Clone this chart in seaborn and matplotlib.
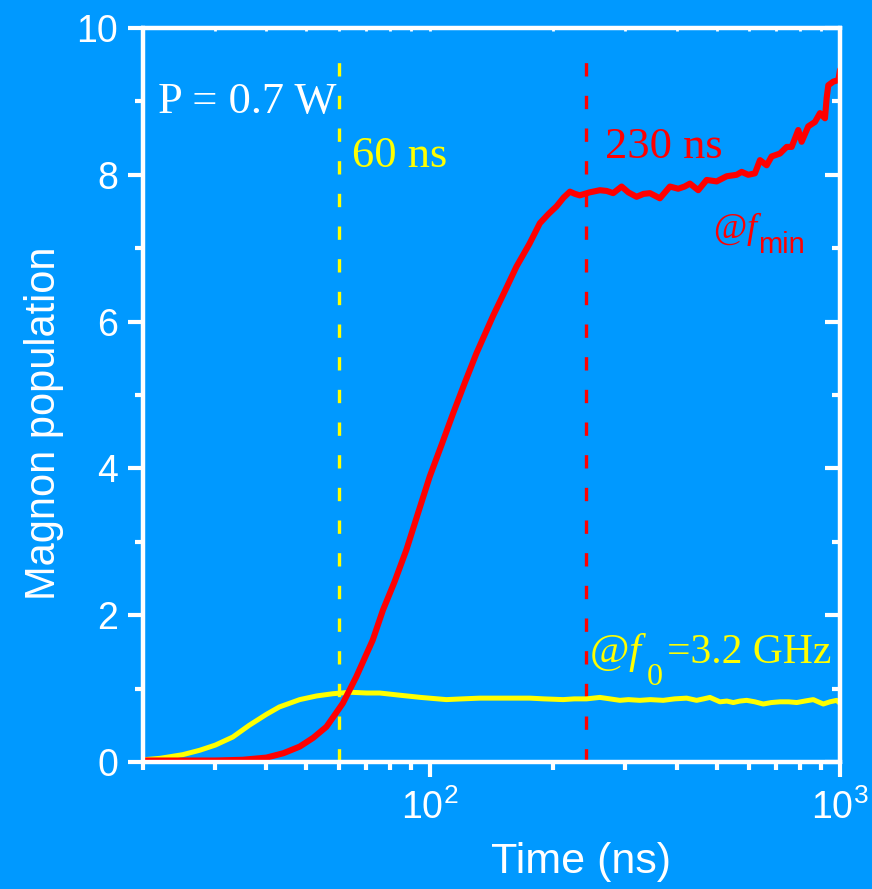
import numpy as np
import pandas as pd
import matplotlib
matplotlib.use("Agg")
import matplotlib.pyplot as plt
import seaborn as sns
from matplotlib.ticker import FixedLocator, MultipleLocator, NullFormatter, FixedFormatter

# ---------------- data ----------------
yel_t = [20, 22, 25, 27.5, 30, 33.1, 36.3, 40, 43, 48.2, 53, 58, 64, 70.2, 75.5, 84.5, 95,
         109.8, 120, 132.4, 150, 175.4, 190, 211.4, 225, 241.1, 259.8, 275, 290.7, 305, 325.2,
         345, 370.7, 395, 422.8, 447.2, 465, 481.9, 509.7, 530, 549.4, 570, 592.2, 620, 650.1,
         680, 714, 750, 784.3, 820, 860.8, 885, 910.5, 945, 981.5, 1000]
yel_n = [0.03, 0.05, 0.10, 0.16, 0.23, 0.34, 0.50, 0.65, 0.75, 0.85, 0.90, 0.93, 0.95, 0.94,
         0.94, 0.91, 0.88, 0.85, 0.86, 0.87, 0.87, 0.87, 0.86, 0.85, 0.86, 0.86, 0.88, 0.86,
         0.84, 0.85, 0.84, 0.85, 0.84, 0.86, 0.87, 0.84, 0.86, 0.88, 0.82, 0.83, 0.81, 0.83,
         0.84, 0.82, 0.79, 0.81, 0.82, 0.82, 0.81, 0.83, 0.85, 0.82, 0.79, 0.82, 0.84, 0.80]

red_t = [20, 25, 30, 35, 40, 44, 48.2, 52, 56, 61.4, 66.2, 72.6, 76.9, 82, 87.7, 93.5, 100,
         107, 114, 122, 130, 142.7, 152, 162.7, 175, 185.5, 195, 203.7, 212, 219.6, 226, 232,
         245, 259.8, 270, 280, 293.5, 305, 319.3, 332, 344.1, 363.9, 384.9, 403.3, 418, 430.7,
         451.3, 473.1, 500.4, 529.3, 559.8, 575.8, 597.5, 620.4, 638.1, 662.5, 681.3, 714,
         741.3, 762.4, 791.1, 806.3, 836.8, 868.9, 893.7, 919, 928, 936.5, 963.2, 990.6, 1000]
red_n = [0.02, 0.02, 0.02, 0.03, 0.06, 0.12, 0.21, 0.33, 0.48, 0.80, 1.16, 1.66, 2.07, 2.45,
         2.89, 3.38, 3.89, 4.33, 4.75, 5.18, 5.57, 6.08, 6.40, 6.75, 7.06, 7.34, 7.47, 7.57,
         7.69, 7.77, 7.74, 7.72, 7.76, 7.79, 7.78, 7.75, 7.84, 7.76, 7.70, 7.74, 7.75, 7.68,
         7.84, 7.81, 7.84, 7.88, 7.79, 7.93, 7.91, 7.98, 8.00, 8.04, 8.00, 8.02, 8.20, 8.13,
         8.25, 8.29, 8.38, 8.38, 8.61, 8.45, 8.66, 8.72, 8.84, 8.77, 9.05, 9.22, 9.27, 9.29, 9.43]

marker_times = [60, 240]
x_major = [100, 1000]
x_major_labels = [r"$\mathsf{10^{2}}$", r"$\mathsf{10^{3}}$"]
x_minor = [20, 30, 40, 50, 60, 70, 80, 90, 200, 300, 400, 500, 600, 700, 800, 900]

BG = "#0099ff"
YEL = "#ffff00"
RED = "#ff0000"

sns.set_theme(style="ticks", rc={
    "axes.facecolor": BG, "figure.facecolor": BG, "axes.edgecolor": "white",
    "xtick.color": "white", "ytick.color": "white", "text.color": "white",
    "axes.labelcolor": "white", "axes.linewidth": 3,
})
plt.rcParams["font.family"] = ["Liberation Sans", "DejaVu Sans"]
plt.rcParams["mathtext.fontset"] = "custom"
plt.rcParams["mathtext.rm"] = "Liberation Serif"
plt.rcParams["mathtext.it"] = "Liberation Serif:italic"
plt.rcParams["mathtext.bf"] = "Liberation Serif:bold"
plt.rcParams["mathtext.sf"] = "Liberation Sans"

fig = plt.figure(figsize=(8.72, 8.89), dpi=100, facecolor=BG)
ax = fig.add_axes([143 / 872, 1 - 762 / 889, (840 - 143) / 872, (762 - 28) / 889])
ax.set_facecolor(BG)

df_y = pd.DataFrame({"t": yel_t, "n": yel_n})
df_r = pd.DataFrame({"t": red_t, "n": red_n})

ax.vlines(marker_times[0], 0, 9.62, colors=YEL, lw=2.4, linestyles=(0, (4.0, 5.8)), zorder=1.5)
ax.vlines(marker_times[1], 0, 9.66, colors=RED, lw=2.4, linestyles=(0, (4.0, 5.8)), zorder=1.5)
sns.lineplot(data=df_y, x="t", y="n", color=YEL, lw=3.6, ax=ax, zorder=2)
sns.lineplot(data=df_r, x="t", y="n", color=RED, lw=4.4, ax=ax, zorder=3)

ax.set_xscale("log")
ax.set_xlim(20, 1000)
ax.set_ylim(0, 10)

ax.xaxis.set_major_locator(FixedLocator(x_major))
ax.xaxis.set_major_formatter(FixedFormatter(x_major_labels))
ax.xaxis.set_minor_locator(FixedLocator(x_minor))
ax.xaxis.set_minor_formatter(NullFormatter())
ax.yaxis.set_major_locator(MultipleLocator(2))
ax.yaxis.set_minor_locator(MultipleLocator(1))

ax.tick_params(which="both", direction="out", top=False, right=False, width=3, colors="white")
ax.tick_params(which="major", length=11)
ax.tick_params(which="minor", length=6)
ax.tick_params(axis="y", which="major", labelsize=27, pad=7)
ax.tick_params(axis="x", which="major", labelsize=27, pad=9)

# right axis: ticks pointing inwards
ax_r = ax.twinx()
ax_r.set_ylim(0, 10)
ax_r.yaxis.set_major_locator(MultipleLocator(2))
ax_r.yaxis.set_minor_locator(MultipleLocator(1))
ax_r.tick_params(which="both", direction="in", width=3, colors="white", labelright=False)
ax_r.tick_params(which="major", length=11)
ax_r.tick_params(which="minor", length=6)
ax_r.patch.set_visible(False)

# top axis: tiny inward ticks
ax_t = ax.twiny()
ax_t.set_xscale("log")
ax_t.set_xlim(20, 1000)
ax_t.xaxis.set_major_locator(FixedLocator(x_major))
ax_t.xaxis.set_minor_locator(FixedLocator(x_minor))
ax_t.tick_params(which="both", direction="in", width=2, length=2.5, colors="white",
                 labeltop=False)
ax_t.patch.set_visible(False)

for a in (ax, ax_r, ax_t):
    for s in a.spines.values():
        s.set_linewidth(3)
        s.set_color("white")

ax.set_xlabel("Time (ns)", fontsize=31)
ax.xaxis.set_label_coords(0.628, -0.109)
ax.set_ylabel("Magnon population", fontsize=30)
ax.yaxis.set_label_coords(-0.113, 0.462)

serif = ["Liberation Serif", "DejaVu Serif"]
sans = ["Liberation Sans", "DejaVu Sans"]
ax.text(21.7, 8.84, "P = 0.7 W", color="white", fontsize=32, family=serif, va="baseline")
ax.text(64.5, 8.11, "60 ns", color=YEL, fontsize=32, family=serif, va="baseline")
ax.text(267, 8.23, "230 ns", color=RED, fontsize=32, family=serif, va="baseline")
# @f_min
ax.text(489, 7.14, r"@$\mathit{f}$", color=RED, fontsize=26, family=serif, va="baseline")
ax.text(631, 6.93, "min", color=RED, fontsize=21, family=sans, va="baseline")
# @f_0 =3.2 GHz
ax.text(244, 1.35, r"@$\mathit{f}$", color=YEL, fontsize=31, family=serif, va="baseline")
ax.text(338, 1.05, "0", color=YEL, fontsize=23, family=serif, va="baseline")
ax.text(378, 1.35, "=3.2 GHz", color=YEL, fontsize=30, family=serif, va="baseline")

fig.savefig("out.png", dpi=100, facecolor=BG)
